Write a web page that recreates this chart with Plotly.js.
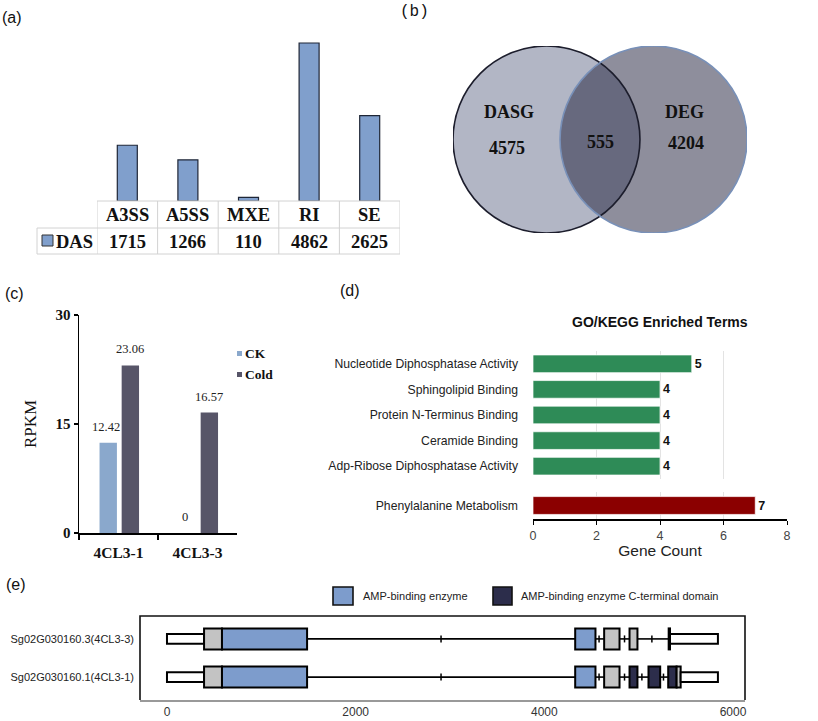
<!DOCTYPE html>
<html><head><meta charset="utf-8">
<script src="https://cdn.plot.ly/plotly-3.0.1.min.js"></script>
<style>html,body{margin:0;padding:0;background:#fff}#chart{width:818px;height:721px}</style>
</head><body><div id="chart"></div>
<script>
// ---------------- data ----------------
// (a) differential alternative splicing events
const asTypes = ['A3SS', 'A5SS', 'MXE', 'RI', 'SE'];
const dasCounts = [1715, 1266, 110, 4862, 2625];
const dasSeriesName = 'DAS';
// (b) Venn
const vennSets = ['DASG', 'DEG'];
const vennCounts = [4575, 555, 4204]; // DASG only, overlap, DEG only
// (c) expression
const genes = ['4CL3-1', '4CL3-3'];
const rpkmCK = [12.42, 0];
const rpkmCold = [23.06, 16.57];
const rpkmTicks = [0, 15, 30];
// (d) enrichment
const goTerms = ['Nucleotide Diphosphatase Activity', 'Sphingolipid Binding', 'Protein N-Terminus Binding', 'Ceramide Binding', 'Adp-Ribose Diphosphatase Activity'];
const goCounts = [5, 4, 4, 4, 4];
const keggTerms = ['Phenylalanine Metabolism'];
const keggCounts = [7];
// (e) gene structure (bp)
const transcripts = ['Sg02G030160.3(4CL3-3)', 'Sg02G030160.1(4CL3-1)'];
const t3Starts = [0, 393, 583, 4327, 4634, 4903, 5318, 5332];
const t3Ends   = [393, 583, 1485, 4542, 4797, 4987, 5332, 5840];
const t3Types  = ['utr', 'cds', 'amp', 'amp', 'cds', 'cds', 'cds', 'utr'];
const t1Starts = [0, 393, 583, 4327, 4634, 4903, 5104, 5313, 5402, 5445];
const t1Ends   = [393, 583, 1485, 4542, 4797, 4987, 5228, 5402, 5445, 5840];
const t1Types  = ['utr', 'cds', 'amp', 'amp', 'cds', 'cterm', 'cterm', 'cterm', 'cds', 'utr'];
const t3Marks = [2905, 4580, 4850, 5140];
const t1Marks = [2905, 4580, 4850, 5034, 5263];
const posTicks = [0, 2000, 4000, 6000];
const domainNames = ['AMP-binding enzyme', 'AMP-binding enzyme C-terminal domain'];

// ---------------- helpers ----------------
const W = 818, H = 721;
const px = v => v / W;
const py = v => 1 - v / H;
const SERIF = 'Liberation Serif, Times New Roman, serif';
const SANS = 'Liberation Sans, Arial, sans-serif';

const typeColor = {utr: '#ffffff', cds: '#c3c3c3', amp: '#7d9ccc', cterm: '#2c2d4b'};
const typeWidth = {utr: 0.26, cds: 0.55, amp: 0.55, cterm: 0.55};

const traces = [];
const shapes = [];
const annotations = [];
function note(o) { annotations.push(Object.assign({showarrow: false, xanchor: 'center', yanchor: 'middle'}, o)); }

// ---------------- (a) ----------------
traces.push({
  type: 'bar', x: asTypes, y: dasCounts, xaxis: 'x', yaxis: 'y', width: 0.33,
  marker: {color: '#809fcc', line: {color: '#1e2636', width: 1.2}}, hoverinfo: 'skip'
});
const tblLine = {color: '#d2d2d2', width: 1};
shapes.push({type: 'line', xref: 'x', yref: 'paper', x0: -0.5, x1: asTypes.length - 0.5, y0: py(201), y1: py(201), line: tblLine});
shapes.push({type: 'line', xref: 'paper', yref: 'paper', x0: px(37), x1: px(400), y0: py(228), y1: py(228), line: tblLine});
shapes.push({type: 'line', xref: 'paper', yref: 'paper', x0: px(37), x1: px(400), y0: py(254), y1: py(254), line: tblLine});
shapes.push({type: 'line', xref: 'paper', yref: 'paper', x0: px(37), x1: px(37), y0: py(228), y1: py(254), line: tblLine});
for (let i = 0; i <= asTypes.length; i++) {
  shapes.push({type: 'line', xref: 'x', yref: 'paper', x0: i - 0.5, x1: i - 0.5, y0: py(201), y1: py(254), line: tblLine});
}
const tblFont = {family: SERIF, size: 18.5, color: '#111', weight: 'bold'};
asTypes.forEach((t, i) => {
  note({xref: 'x', yref: 'paper', x: t, y: py(215), text: t, font: tblFont});
  note({xref: 'x', yref: 'paper', x: t, y: py(241.5), text: String(dasCounts[i]), font: tblFont});
});
shapes.push({type: 'rect', xref: 'paper', yref: 'paper', x0: px(42), x1: px(53), y0: py(246), y1: py(235),
  fillcolor: '#809fcc', line: {color: '#333', width: 1}});
note({xref: 'paper', yref: 'paper', x: px(54), y: py(241.5), xanchor: 'left', text: dasSeriesName, font: tblFont});

// ---------------- (b) Venn ----------------
const vennSep = 0.5725; // half distance between centres (radius = 1)
shapes.push({type: 'circle', xref: 'x2', yref: 'y2', x0: -vennSep - 1, x1: -vennSep + 1, y0: -1, y1: 1,
  fillcolor: '#b2b6c5', line: {width: 0}, layer: 'below'});
shapes.push({type: 'circle', xref: 'x2', yref: 'y2', x0: vennSep - 1, x1: vennSep + 1, y0: -1, y1: 1,
  fillcolor: 'rgba(24,24,53,0.49)', line: {width: 0}, layer: 'below'});
shapes.push({type: 'circle', xref: 'x2', yref: 'y2', x0: -vennSep - 1, x1: -vennSep + 1, y0: -1, y1: 1,
  fillcolor: 'rgba(0,0,0,0)', line: {color: '#1c1d2c', width: 1.6}});
shapes.push({type: 'circle', xref: 'x2', yref: 'y2', x0: vennSep - 1, x1: vennSep + 1, y0: -1, y1: 1,
  fillcolor: 'rgba(0,0,0,0)', line: {color: '#7890b8', width: 1.6}});
const vennFont = {family: SERIF, size: 18, color: '#111', weight: 'bold'};
note({xref: 'x2', yref: 'y2', x: -0.97, y: 0.29, text: vennSets[0], font: vennFont});
note({xref: 'x2', yref: 'y2', x: -1.0, y: -0.09, text: String(vennCounts[0]), font: vennFont});
note({xref: 'x2', yref: 'y2', x: 0.01, y: -0.03, text: String(vennCounts[1]), font: vennFont});
note({xref: 'x2', yref: 'y2', x: 0.90, y: 0.29, text: vennSets[1], font: vennFont});
note({xref: 'x2', yref: 'y2', x: 0.92, y: -0.04, text: String(vennCounts[2]), font: vennFont});

// ---------------- (c) ----------------
const cW = 0.22, ckOff = -0.24, coldOff = 0.04;
traces.push({type: 'bar', x: genes, y: rpkmCK, xaxis: 'x3', yaxis: 'y3', width: cW, offset: ckOff,
  marker: {color: '#8aa8cc'}, hoverinfo: 'skip'});
traces.push({type: 'bar', x: genes, y: rpkmCold, xaxis: 'x3', yaxis: 'y3', width: cW, offset: coldOff,
  marker: {color: '#575568'}, hoverinfo: 'skip'});
const valFont = {family: SERIF, size: 12.5, color: '#222'};
genes.forEach((g, i) => {
  note({xref: 'x3', yref: 'y3', x: i + ckOff + cW / 2 - 0.03, y: rpkmCK[i], yanchor: 'bottom', yshift: 7,
    text: rpkmCK[i].toFixed(rpkmCK[i] === 0 ? 0 : 2), font: valFont});
  note({xref: 'x3', yref: 'y3', x: i + coldOff + cW / 2, y: rpkmCold[i], yanchor: 'bottom', yshift: 7,
    text: rpkmCold[i].toFixed(2), font: valFont});
});
shapes.push({type: 'rect', xref: 'paper', yref: 'paper', x0: px(237), x1: px(242), y0: py(356), y1: py(351), fillcolor: '#8aa8cc', line: {width: 0}});
shapes.push({type: 'rect', xref: 'paper', yref: 'paper', x0: px(237), x1: px(242), y0: py(377), y1: py(372), fillcolor: '#575568', line: {width: 0}});
const legFont = {family: SERIF, size: 13.5, color: '#111', weight: 'bold'};
note({xref: 'paper', yref: 'paper', x: px(243), y: py(353.5), xanchor: 'left', text: 'CK', font: legFont});
note({xref: 'paper', yref: 'paper', x: px(243), y: py(374.5), xanchor: 'left', text: 'Cold', font: legFont});

// ---------------- (d) ----------------
traces.push({type: 'bar', orientation: 'h', y: goTerms, x: goCounts, xaxis: 'x4', yaxis: 'y4', width: 0.69,
  marker: {color: '#2e8b57', line: {color: 'rgba(255,255,255,0.7)', width: 1}},
  text: goCounts.map(String), textposition: 'outside', cliponaxis: false,
  textfont: {family: SANS, size: 12.5, color: '#111', weight: 'bold'}, hoverinfo: 'skip'});
traces.push({type: 'bar', orientation: 'h', y: keggTerms, x: keggCounts, xaxis: 'x4', yaxis: 'y5', width: 0.66,
  marker: {color: '#8b0000', line: {color: 'rgba(255,255,255,0.7)', width: 1}},
  text: keggCounts.map(String), textposition: 'outside', cliponaxis: false,
  textfont: {family: SANS, size: 12.5, color: '#111', weight: 'bold'}, hoverinfo: 'skip'});
note({xref: 'paper', yref: 'paper', x: px(660), y: py(322), text: 'GO/KEGG Enriched Terms',
  font: {family: SANS, size: 14, color: '#111', weight: 'bold'}});

// ---------------- (e) ----------------
function buildTranscript(name, starts, ends, types, marks) {
  const ord = starts.map((s, i) => i).sort((a, b) => starts[a] - starts[b]);
  const lx = [], ly = [];
  for (let k = 1; k < ord.length; k++) {
    const a = ends[ord[k - 1]], b = starts[ord[k]];
    if (b > a) { lx.push(a, b, null); ly.push(name, name, null); }
  }
  traces.push({type: 'scatter', mode: 'lines', x: lx, y: ly, xaxis: 'x6', yaxis: 'y6',
    line: {color: '#000', width: 1.6}, hoverinfo: 'skip'});
  traces.push({type: 'scatter', mode: 'markers', x: marks, y: marks.map(() => name), xaxis: 'x6', yaxis: 'y6',
    marker: {symbol: 'line-ns', size: 5, line: {color: '#000', width: 1.5}}, hoverinfo: 'skip'});
  traces.push({type: 'bar', orientation: 'h', y: starts.map(() => name), base: starts,
    x: starts.map((s, i) => ends[i] - s), width: types.map(t => typeWidth[t]),
    xaxis: 'x6', yaxis: 'y6',
    marker: {color: types.map(t => typeColor[t]), line: {color: '#000', width: 2}}, hoverinfo: 'skip'});
}
buildTranscript(transcripts[0], t3Starts, t3Ends, t3Types, t3Marks);
buildTranscript(transcripts[1], t1Starts, t1Ends, t1Types, t1Marks);
shapes.push({type: 'path', xref: 'paper', yref: 'paper',
  path: `M ${px(140)},${py(700)} L ${px(140)},${py(616)} L ${px(745)},${py(616)} L ${px(745)},${py(700)}`,
  line: {color: '#111', width: 1.6}});
shapes.push({type: 'rect', xref: 'paper', yref: 'paper', x0: px(333), x1: px(353), y0: py(605), y1: py(587),
  fillcolor: typeColor.amp, line: {color: '#111', width: 1.6}});
shapes.push({type: 'rect', xref: 'paper', yref: 'paper', x0: px(493), x1: px(512), y0: py(605), y1: py(587),
  fillcolor: typeColor.cterm, line: {color: '#111', width: 1.6}});
note({xref: 'paper', yref: 'paper', x: px(361), y: py(596), xanchor: 'left', text: domainNames[0],
  font: {family: SANS, size: 11, color: '#222'}});
note({xref: 'paper', yref: 'paper', x: px(519), y: py(596), xanchor: 'left', text: domainNames[1],
  font: {family: SANS, size: 11, color: '#222'}});

// ---------------- panel labels ----------------
[['(a)', 0, 18, SANS], ['(b)', 398, 12, 'Liberation Mono, Courier New, monospace'], ['(c)', 3, 293, SANS], ['(d)', 338, 290, SANS], ['(e)', 4, 584, SANS]]
  .forEach(([t, x, y, f]) => note({xref: 'paper', yref: 'paper', x: px(x), y: py(y), xanchor: 'left', text: t,
    font: {family: f, size: 16, color: '#111'}}));

// ---------------- layout ----------------
const layout = {
  width: W, height: H, margin: {l: 0, r: 0, t: 0, b: 0},
  paper_bgcolor: '#fff', plot_bgcolor: 'rgba(0,0,0,0)', showlegend: false, barmode: 'overlay',
  font: {family: SANS, color: '#111'},
  xaxis: {domain: [px(97), px(400)], range: [-0.5, 4.5], type: 'category', visible: false},
  yaxis: {domain: [py(201), py(6)], range: [0, 6000], visible: false},
  xaxis2: {domain: [px(453), px(747)], range: [-1.5725, 1.5725], visible: false, anchor: 'y2'},
  yaxis2: {domain: [py(233), py(46)], range: [-1, 1], visible: false, anchor: 'x2'},
  xaxis3: {domain: [px(79), px(237)], anchor: 'y3', type: 'category', range: [-0.5, 1.5],
    showline: true, linecolor: '#000', linewidth: 1.5, ticks: 'outside', tickson: 'boundaries', ticklen: 5,
    tickcolor: '#000', tickwidth: 1.5, showgrid: false, ticklabelstandoff: 5,
    tickfont: {family: SERIF, size: 15.5, color: '#111', weight: 'bold'}},
  yaxis3: {domain: [py(533), py(315)], anchor: 'x3', range: [0, 30], tickvals: rpkmTicks,
    showline: true, linecolor: '#000', linewidth: 1.5, ticks: 'outside', ticklen: 4, tickcolor: '#000', tickwidth: 1.5,
    showgrid: false, zeroline: false,
    tickfont: {family: SERIF, size: 15, color: '#111', weight: 'bold'},
    title: {text: 'RPKM', font: {family: SERIF, size: 17, color: '#111'}, standoff: 14}},
  xaxis4: {domain: [px(533), px(787)], anchor: 'y5', range: [0, 8], dtick: 2, tick0: 0,
    showgrid: true, gridcolor: '#e3e3e3', gridwidth: 1, zeroline: false,
    showline: true, linecolor: '#000', linewidth: 1.5, ticks: 'outside', ticklen: 4, tickcolor: '#000',
    tickfont: {family: SANS, size: 12.5, color: '#444'},
    title: {text: 'Gene Count', font: {family: SANS, size: 15.5, color: '#222'}, standoff: 2}},
  yaxis4: {domain: [py(479), py(351)], anchor: 'x4', type: 'category', autorange: 'reversed',
    showgrid: false, zeroline: false, ticks: '', ticklabelstandoff: 14,
    tickfont: {family: SANS, size: 12.2, color: '#222'}},
  yaxis5: {domain: [py(519), py(492)], anchor: 'x4', type: 'category',
    showgrid: false, zeroline: false, ticks: '', ticklabelstandoff: 14,
    tickfont: {family: SANS, size: 12.2, color: '#222'}},
  xaxis6: {domain: [px(140), px(745)], anchor: 'y6', range: [-286, 6127], tickvals: posTicks,
    showline: true, linecolor: '#999', linewidth: 1.5, ticks: '', showgrid: false, zeroline: false,
    tickfont: {family: SANS, size: 12, color: '#333'}},
  yaxis6: {domain: [py(700), py(616)], anchor: 'x6', type: 'category',
    categoryorder: 'array', categoryarray: [transcripts[1], transcripts[0]], range: [-0.6, 1.6],
    showgrid: false, zeroline: false, showline: false, ticks: '', ticklabelstandoff: 5,
    tickfont: {family: SANS, size: 11, color: '#222'}},
  shapes: shapes,
  annotations: annotations
};

Plotly.newPlot('chart', traces, layout, {staticPlot: true, displayModeBar: false});
</script>
</body></html>
